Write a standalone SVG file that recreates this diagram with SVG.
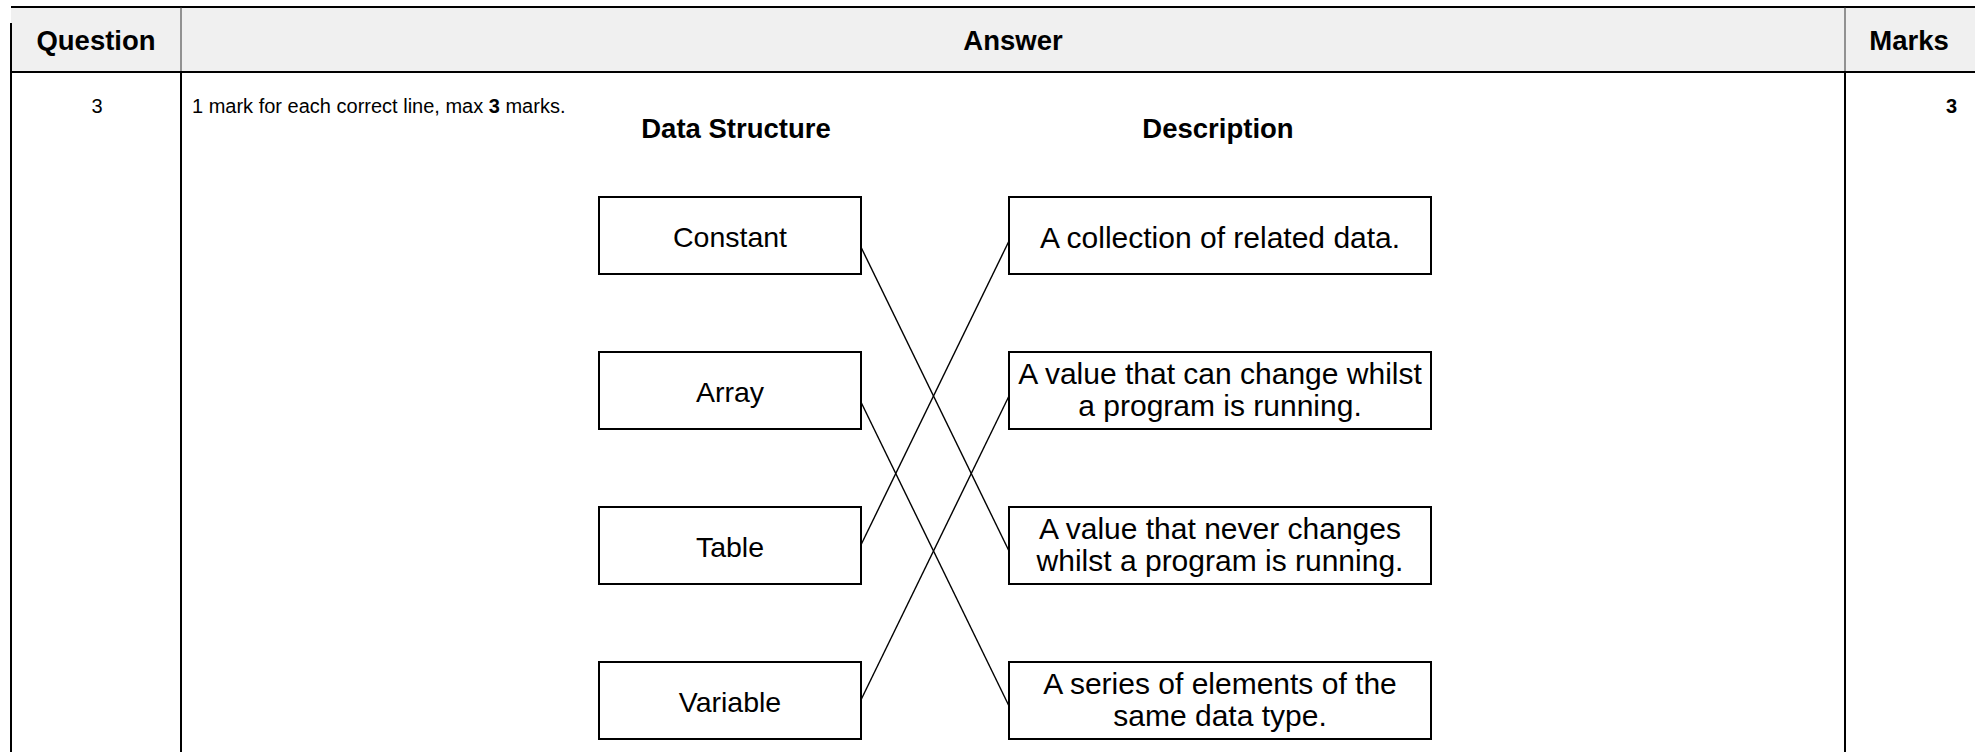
<svg xmlns="http://www.w3.org/2000/svg" width="1975" height="752" viewBox="0 0 1975 752">
<style>
.t{font-family:"Liberation Sans",Arial,sans-serif;fill:#000}
.hd{font-size:27.5px;font-weight:bold;text-anchor:middle}
.cell{font-size:20px}
.box{fill:#fff;stroke:#000;stroke-width:2}
.bt{font-size:28.5px;text-anchor:middle}
.rt{font-size:30px;text-anchor:middle}
.grid{stroke:#000;stroke-width:2;fill:none}
.conn line{stroke:#000;stroke-width:1.4}
</style>
<rect width="1975" height="752" fill="#fff"/>
<g id="table">
<rect x="11" y="7" width="1964" height="65" fill="#f0f0f0"/>
<line class="grid" x1="11" y1="7" x2="1975" y2="7" stroke-width="1.5"/>
<line x1="181" y1="7" x2="181" y2="72" stroke="#333" stroke-width="1"/>
<line x1="1845" y1="7" x2="1845" y2="72" stroke="#333" stroke-width="1"/>
<line class="grid" x1="11" y1="23" x2="11" y2="752"/>
<line class="grid" x1="181" y1="72" x2="181" y2="752"/>
<line class="grid" x1="1845" y1="72" x2="1845" y2="752"/>
<line class="grid" x1="11" y1="72" x2="1975" y2="72" stroke-width="3"/>
<text class="t hd" x="96" y="50" font-size="28">Question</text>
<text class="t hd" x="1013" y="50" font-size="28.5">Answer</text>
<text class="t hd" x="1909" y="50">Marks</text>
<text class="t cell" x="97" y="113" text-anchor="middle">3</text>
<text class="t cell" x="192" y="113">1 mark for each correct line, max <tspan font-weight="bold">3</tspan> marks.</text>
<text class="t cell" x="1957" y="113" text-anchor="end" font-weight="bold">3</text>
<text class="t hd" x="736" y="138">Data Structure</text>
<text class="t hd" x="1218" y="138" font-size="29">Description</text>
</g>
<g id="connectors" class="conn">
<line x1="858" y1="241" x2="1009" y2="551"/>
<line x1="858" y1="396" x2="1009" y2="706"/>
<line x1="858" y1="551" x2="1009" y2="241"/>
<line x1="858" y1="706" x2="1009" y2="396"/>
</g>
<g id="n-constant"><rect class="box" x="599" y="197" width="262" height="77"/><text class="t bt" x="730" y="247">Constant</text></g>
<g id="n-array"><rect class="box" x="599" y="352" width="262" height="77"/><text class="t bt" x="730" y="402">Array</text></g>
<g id="n-table"><rect class="box" x="599" y="507" width="262" height="77"/><text class="t bt" x="730" y="557">Table</text></g>
<g id="n-variable"><rect class="box" x="599" y="662" width="262" height="77"/><text class="t bt" x="730" y="712">Variable</text></g>
<g id="d-collection"><rect class="box" x="1009" y="197" width="422" height="77"/><text class="t rt" x="1220" y="248">A collection of related data.</text></g>
<g id="d-canchange"><rect class="box" x="1009" y="352" width="422" height="77"/><text class="t rt" x="1220" y="384">A value that can change whilst</text><text class="t rt" x="1220" y="416">a program is running.</text></g>
<g id="d-neverchanges"><rect class="box" x="1009" y="507" width="422" height="77"/><text class="t rt" x="1220" y="539">A value that never changes</text><text class="t rt" x="1220" y="571">whilst a program is running.</text></g>
<g id="d-series"><rect class="box" x="1009" y="662" width="422" height="77"/><text class="t rt" x="1220" y="694">A series of elements of the</text><text class="t rt" x="1220" y="726">same data type.</text></g>
</svg>
